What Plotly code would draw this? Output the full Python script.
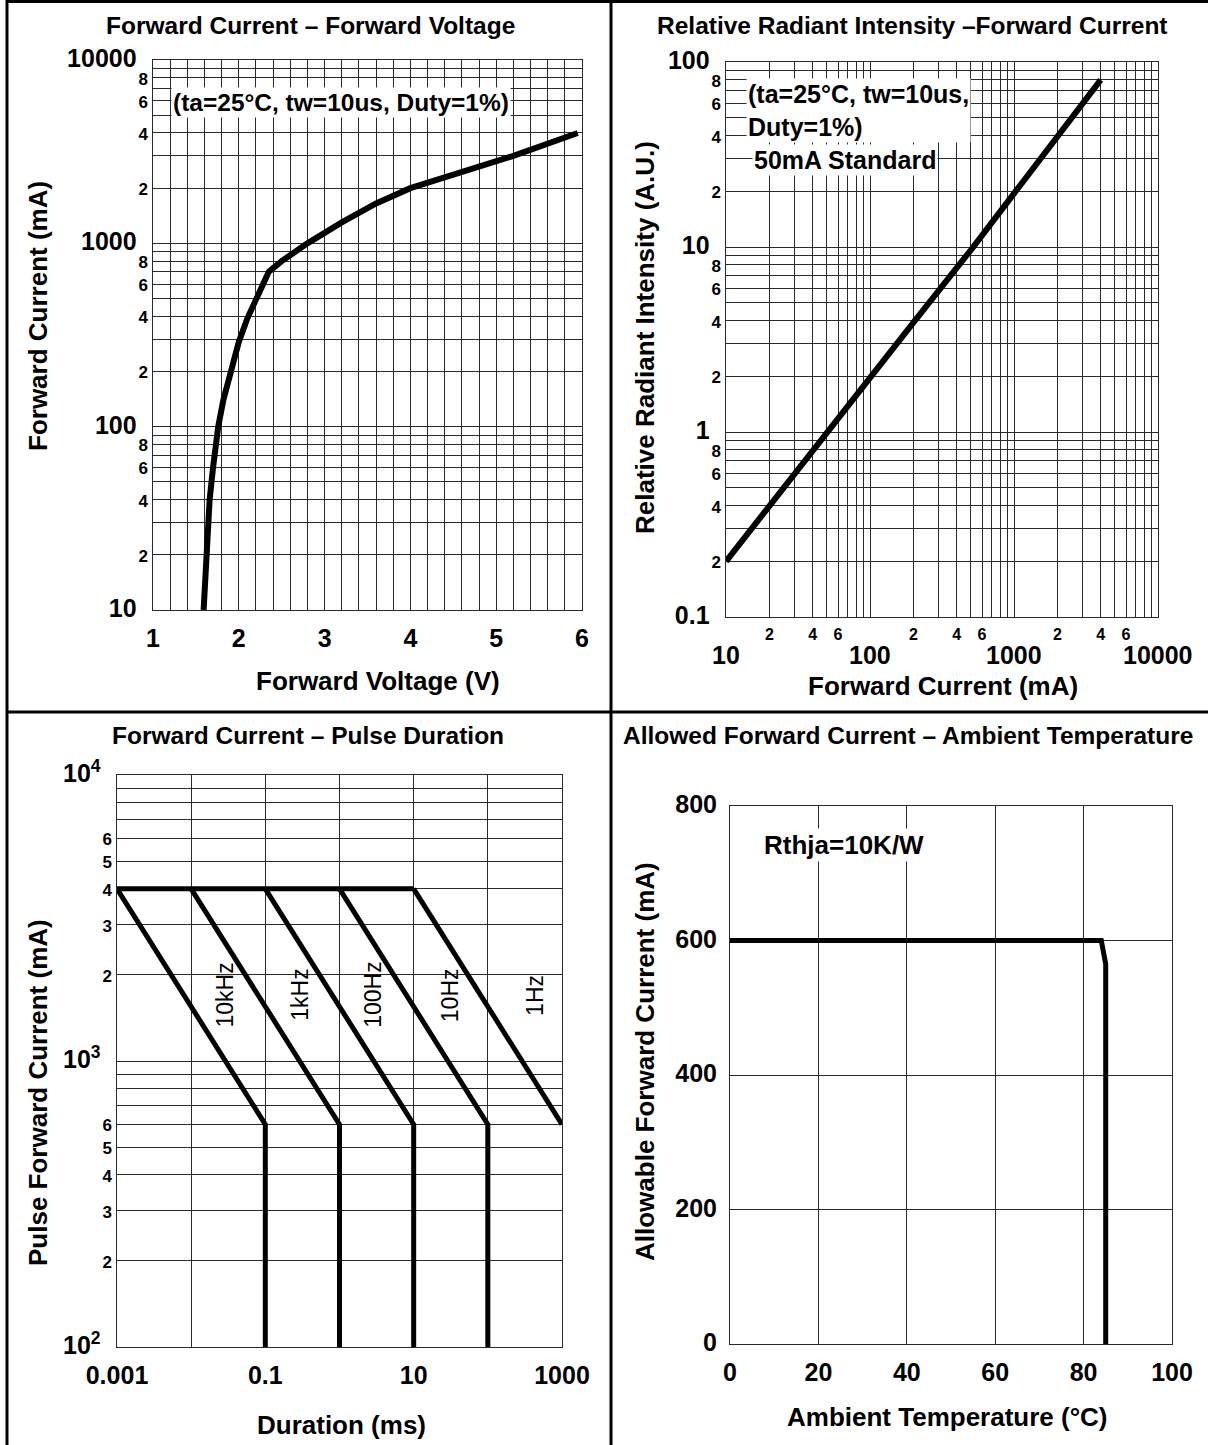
import numpy as np
import plotly.graph_objects as go

W, H = 1208, 1445
FONT = "Liberation Sans, Arial, Helvetica, sans-serif"

# ---------------- data ----------------
# Panel 1: Forward Current - Forward Voltage
fv_voltage_V = [1.59, 1.61, 1.63, 1.66, 1.70, 1.76, 1.82, 1.90, 2.00, 2.10, 2.20, 2.26,
                2.35, 2.50, 2.80, 3.20, 3.60, 4.00, 4.60, 5.20, 5.95]
fv_current_mA = [10, 15, 20, 40, 60, 100, 140, 200, 290, 390, 500, 580,
                 700, 800, 1000, 1300, 1650, 2000, 2450, 3000, 4000]
fv_x_major = [1, 2, 3, 4, 5, 6]
fv_y_decades = [10, 100, 1000, 10000]
fv_y_major_text = ["10", "100", "1000", "10000"]

# Panel 2: Relative Radiant Intensity - Forward Current
ri_current_mA = [10, 20, 50, 100, 200, 500, 1000, 2000, 4000]
ri_intensity_au = [0.2, 0.4, 1.0, 1.95, 3.9, 9.6, 19.5, 39, 80]
ri_x_decades = [10, 100, 1000, 10000]
ri_x_major_text = ["10", "100", "1000", "10000"]
ri_y_decades = [0.1, 1, 10, 100]
ri_y_major_text = ["0.1", "1", "10", "100"]

# Panel 3: Forward Current - Pulse Duration
pd_freq_labels = ["10kHz", "1kHz", "100Hz", "10Hz", "1Hz"]
pd_start_ms = [0.001, 0.01, 0.1, 1, 10]
pd_knee_ms = [0.1, 1, 10, 100, 1000]
pd_peak_mA = 4000
pd_knee_mA = 600
pd_floor_mA = 100
pd_label_ms = [0.029, 0.29, 2.8, 31, 430]
pd_label_mA = 1700
pd_x_ticks = [0.001, 0.01, 0.1, 1, 10, 100, 1000]
pd_x_text = ["0.001", "", "0.1", "", "10", "", "1000"]
pd_y_decades = [100, 1000, 10000]
pd_y_major_text = ["10<sup>2</sup>", "10<sup>3</sup>", "10<sup>4</sup>"]

# Panel 4: Allowed Forward Current - Ambient Temperature
at_temp_C = [0, 84, 85, 85]
at_current_mA = [600, 600, 565, 0]
at_x_ticks = [0, 20, 40, 60, 80, 100]
at_y_ticks = [0, 200, 400, 600, 800]

MINOR = 17


# ---------------- helpers ----------------
def px_x(p):
    return p / W


def px_y(p):
    return 1 - p / H


def big(t, size=25, pad=True):
    if pad:
        return f"<span style='font-size:{size}px'>{t}\u00a0</span><span style='font-size:16px'>\u00a0</span>"
    return f"<span style='font-size:{size}px'>{t}</span>"


def small(t, size=MINOR):
    return f"<span style='font-size:{size}px'>{t}</span>"


def log_ticks(decades, labeled_minor, major_text, pad=True, show_major=True, wrap_minor=True):
    vals, text = [], []
    for i, d in enumerate(decades):
        vals.append(d)
        text.append(big(major_text[i], pad=pad) if show_major else "")
        if i == len(decades) - 1:
            break
        for m in range(2, 10):
            vals.append(d * m)
            if m in labeled_minor:
                text.append(small(str(m)) if wrap_minor else str(m))
            else:
                text.append("")
    return vals, text


GRID = "#2a2a2a"


def axis_common(**kw):
    d = dict(showgrid=True, gridcolor=GRID, gridwidth=1, zeroline=False,
             showline=True, linecolor=GRID, linewidth=1, mirror=True,
             ticks="", tickmode="array", tickangle=0, automargin=False,
             tickfont=dict(family=FONT, color="black", weight="bold", size=20))
    d.update(kw)
    return d


fig = go.Figure()

# ---------------- traces ----------------
LINE = dict(color="black", width=6)
fig.add_trace(go.Scatter(x=fv_voltage_V, y=fv_current_mA, mode="lines", line=LINE,
                         xaxis="x", yaxis="y", showlegend=False, hoverinfo="skip"))
fig.add_trace(go.Scatter(x=ri_current_mA, y=ri_intensity_au, mode="lines", line=LINE,
                         xaxis="x2", yaxis="y2", showlegend=False, hoverinfo="skip"))

LINE3 = dict(color="black", width=5)
fig.add_trace(go.Scatter(x=[pd_start_ms[0], pd_start_ms[-1]], y=[pd_peak_mA, pd_peak_mA],
                         mode="lines", line=LINE3, xaxis="x3", yaxis="y3",
                         showlegend=False, hoverinfo="skip"))
for i, (s, k) in enumerate(zip(pd_start_ms, pd_knee_ms)):
    xs = [s, k]
    ys = [pd_peak_mA, pd_knee_mA]
    if i < len(pd_start_ms) - 1:
        xs.append(k)
        ys.append(pd_floor_mA)
    fig.add_trace(go.Scatter(x=xs, y=ys, mode="lines", line=LINE3, xaxis="x3", yaxis="y3",
                             showlegend=False, hoverinfo="skip"))

fig.add_trace(go.Scatter(x=at_temp_C, y=at_current_mA, mode="lines", line=LINE3,
                         xaxis="x4", yaxis="y4", showlegend=False, hoverinfo="skip"))

# ---------------- axes ----------------
fv_xt = [round(v, 1) for v in np.arange(1.0, 6.01, 0.2)]
fv_xtext = [big(str(int(round(v))), pad=False) if abs(v - round(v)) < 1e-9 else "" for v in fv_xt]
fv_yv, fv_yt = log_ticks(fv_y_decades, {2, 4, 6, 8}, fv_y_major_text)

ri_xv, ri_xt = log_ticks(ri_x_decades, {2, 4, 6}, ri_x_major_text, pad=False,
                         show_major=False, wrap_minor=False)
ri_yv, ri_yt = log_ticks(ri_y_decades, {2, 4, 6, 8}, ri_y_major_text)

pd_yv, pd_yt = log_ticks(pd_y_decades, {2, 3, 4, 5, 6}, pd_y_major_text)
pd_xt = [big(t, pad=False) if t else "" for t in pd_x_text]

fig.update_layout(
    xaxis=axis_common(domain=[px_x(153), px_x(582)], range=[1, 6], anchor="y",
                      tickvals=fv_xt, ticktext=fv_xtext, ticklabelstandoff=12),
    yaxis=axis_common(domain=[px_y(610), px_y(60)], type="log", range=[1, 4], anchor="x",
                      tickvals=fv_yv, ticktext=fv_yt),
    xaxis2=axis_common(domain=[px_x(726), px_x(1158)], type="log", range=[1, 4], anchor="y2",
                       tickvals=ri_xv, ticktext=ri_xt, ticklabelstandoff=3,
                       tickfont=dict(family=FONT, color="black", weight="bold", size=16)),
    yaxis2=axis_common(domain=[px_y(617), px_y(62)], type="log", range=[-1, 2], anchor="x2",
                       tickvals=ri_yv, ticktext=ri_yt),
    xaxis3=axis_common(domain=[px_x(117), px_x(562)], type="log", range=[-3, 3], anchor="y3",
                       tickvals=pd_x_ticks, ticktext=pd_xt, ticklabelstandoff=12),
    yaxis3=axis_common(domain=[px_y(1347), px_y(775)], type="log", range=[2, 4], anchor="x3",
                       tickvals=pd_yv, ticktext=pd_yt),
    xaxis4=axis_common(domain=[px_x(730), px_x(1172)], range=[0, 100], anchor="y4",
                       tickvals=at_x_ticks, ticktext=[big(str(v), pad=False) for v in at_x_ticks],
                       ticklabelstandoff=12),
    yaxis4=axis_common(domain=[px_y(1344), px_y(806)], range=[0, 800], anchor="x4",
                       tickvals=at_y_ticks, ticktext=[big(str(v), pad=False) for v in at_y_ticks],
                       ticklabelstandoff=8),
)

# ---------------- annotations ----------------
ann = []


def text_ann(txt, xp, yp, size, angle=0, weight="bold", xanchor="center"):
    ann.append(dict(text=txt, x=px_x(xp), y=px_y(yp), xref="paper", yref="paper",
                    showarrow=False, textangle=angle, xanchor=xanchor, yanchor="middle",
                    font=dict(family=FONT, size=size, color="black", weight=weight)))


# titles
text_ann("Forward Current – Forward Voltage", 310, 25, 24.5)
text_ann("Relative Radiant Intensity –Forward Current", 913, 25, 24.5)
text_ann("Forward Current – Pulse Duration", 308, 735, 24.5)
text_ann("Allowed Forward Current – Ambient Temperature", 908, 735, 24.5)
# axis titles
text_ann("Forward Voltage (V)", 378, 681, 26)
text_ann("Forward Current (mA)", 38, 316, 26, angle=-90)
text_ann("Forward Current (mA)", 943, 686, 26)
text_ann("Relative Radiant Intensity (A.U.)", 645, 338, 26, angle=-90)
text_ann("Duration (ms)", 341, 1425, 26)
text_ann("Pulse Forward Current (mA)", 38, 1093, 26, angle=-90)
text_ann("Ambient Temperature (°C)", 947, 1417, 26)
text_ann("Allowable Forward Current (mA)", 645, 1062, 26, angle=-90)

# major x tick labels for panel 2 (drawn below the minor 2/4/6 labels)
for v, t in zip(ri_x_decades, ri_x_major_text):
    ann.append(dict(text=t, x=np.log10(v), xref="x2", y=-(655 - 617) / (617 - 62),
                    yref="y2 domain", showarrow=False, xanchor="center", yanchor="middle",
                    font=dict(family=FONT, size=25, color="black", weight="bold")))

# condition boxes
ann.append(dict(text="(ta=25°C, tw=10us, Duty=1%)", x=(341 - 153) / (582 - 153), xref="x domain",
                y=(610 - 103) / (610 - 60), yref="y domain", showarrow=False,
                xanchor="center", yanchor="middle", bgcolor="white", borderpad=1,
                font=dict(family=FONT, size=24.5, color="black", weight="bold")))
ann.append(dict(text="(ta=25°C, tw=10us,<br>Duty=1%)", x=(746 - 726) / (1158 - 726),
                xref="x2 domain", y=(617 - 111) / (617 - 62), yref="y2 domain",
                showarrow=False, xanchor="left", yanchor="middle", align="left",
                bgcolor="white", borderpad=1,
                font=dict(family=FONT, size=25, color="black", weight="bold")))
ann.append(dict(text="50mA Standard", x=(752 - 726) / (1158 - 726),
                xref="x2 domain", y=(617 - 160) / (617 - 62), yref="y2 domain",
                showarrow=False, xanchor="left", yanchor="middle", align="left",
                bgcolor="white", borderpad=1,
                font=dict(family=FONT, size=25, color="black", weight="bold")))
ann.append(dict(text="Rthja=10K/W", x=(762 - 730) / (1172 - 730), xref="x4 domain",
                y=(1344 - 845) / (1344 - 806), yref="y4 domain", showarrow=False,
                xanchor="left", yanchor="middle", bgcolor="white", borderpad=1,
                font=dict(family=FONT, size=26, color="black", weight="bold")))

# frequency labels (rotated)
for lab, xv in zip(pd_freq_labels, pd_label_ms):
    ann.append(dict(text=lab, x=np.log10(xv), y=np.log10(pd_label_mA), xref="x3", yref="y3",
                    showarrow=False, textangle=-90, xanchor="center", yanchor="middle",
                    font=dict(family=FONT, size=23, color="black")))

# ---------------- panel frame ----------------
shapes = []
FR = dict(color="black", width=3)
shapes.append(dict(type="line", xref="paper", yref="paper", x0=px_x(7), x1=1, y0=px_y(1.5), y1=px_y(1.5), line=FR))
shapes.append(dict(type="line", xref="paper", yref="paper", x0=px_x(7), x1=px_x(7), y0=0, y1=px_y(0), line=FR))
shapes.append(dict(type="line", xref="paper", yref="paper", x0=px_x(611), x1=px_x(611), y0=0, y1=1, line=FR))
shapes.append(dict(type="line", xref="paper", yref="paper", x0=px_x(7), x1=1, y0=px_y(712), y1=px_y(712), line=FR))

fig.update_layout(
    width=W, height=H, margin=dict(l=0, r=0, t=0, b=0, pad=0, autoexpand=False),
    paper_bgcolor="white", plot_bgcolor="white",
    font=dict(family=FONT, color="black"),
    annotations=ann, shapes=shapes, showlegend=False,
)

fig.write_html("out.html", config={"displayModeBar": False},
               post_script="document.body.style.margin='0';document.body.style.overflow='hidden';")
